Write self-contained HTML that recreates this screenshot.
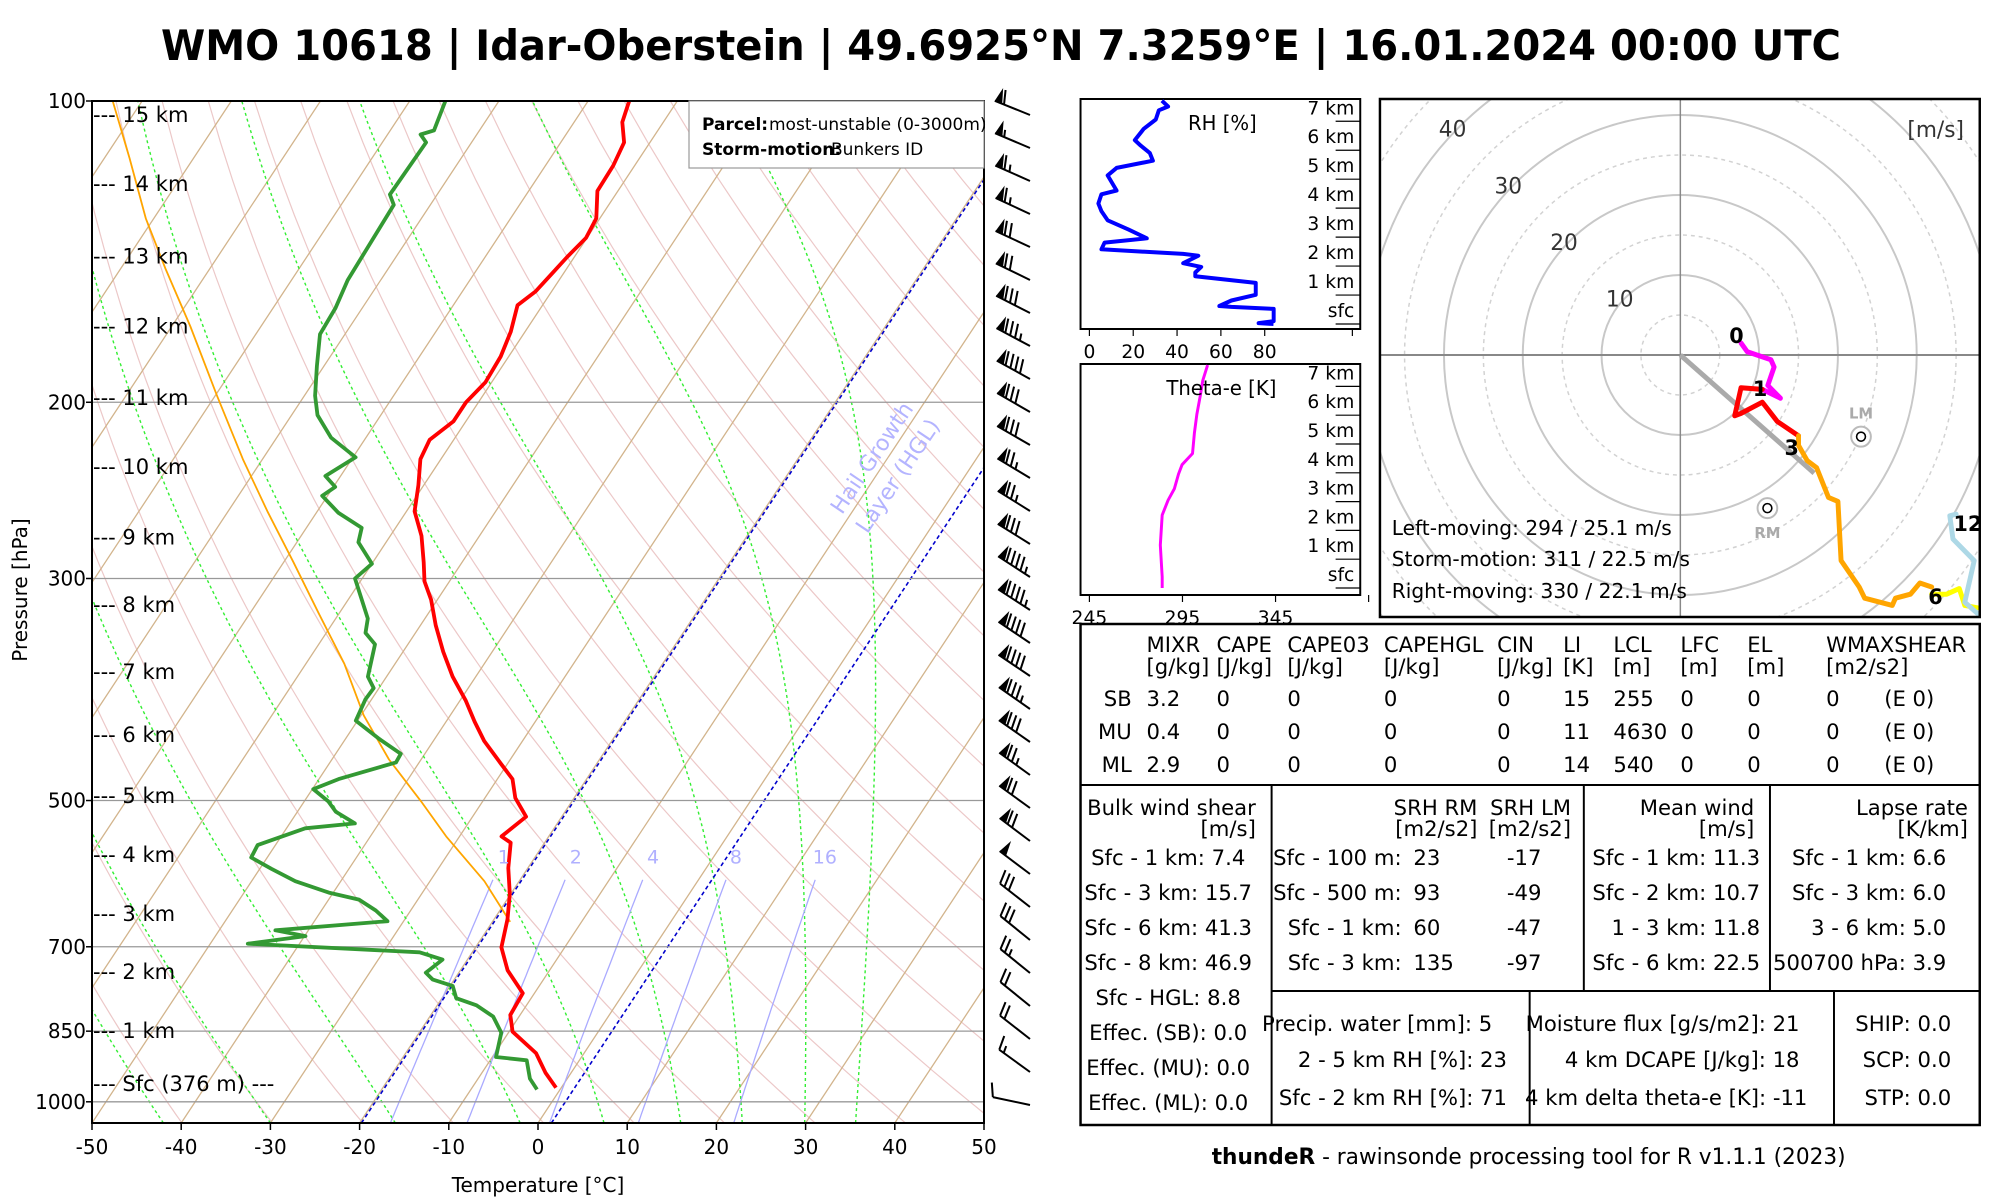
<!DOCTYPE html>
<html><head><meta charset="utf-8"><style>
html,body{margin:0;padding:0;background:#fff;}
svg{display:block;font-family:"DejaVu Sans","Liberation Sans",sans-serif;}
</style></head><body>
<svg id="root" xmlns="http://www.w3.org/2000/svg" width="2000" height="1200" viewBox="0 0 2000 1200">
<defs>
<clipPath id="skewclip"><rect x="92" y="101" width="892" height="1022"/></clipPath>
<clipPath id="hodoclip"><rect x="1385" y="99" width="609" height="518"/></clipPath>
<clipPath id="rhclip"><rect x="1081" y="99" width="284" height="230"/></clipPath>
<clipPath id="thclip"><rect x="1081" y="364" width="284" height="231"/></clipPath>
</defs>
<rect x="0" y="0" width="2000" height="1200" fill="#fff"/>
<text x="1001" y="60" text-anchor="middle" font-size="42" font-weight="bold" textLength="1680" lengthAdjust="spacingAndGlyphs">WMO 10618 | Idar-Oberstein | 49.6925°N 7.3259°E | 16.01.2024 00:00 UTC</text>

<g id="skew">
<g id="skewbg" clip-path="url(#skewclip)"></g>
<g id="skewdata" clip-path="url(#skewclip)"></g>
<g id="skewaxes"></g>
</g>
<g id="barbs"></g>

<g transform="matrix(0.9849 0 0 1 15.86 0)">
<g id="rhpanel"></g>
<g id="thpanel"></g>
<g id="hodo"></g>

<g id="table" font-size="21.5">
<rect x="1081" y="624" width="913" height="501" fill="none" stroke="#000" stroke-width="2.5"/>
<line x1="1081" y1="785" x2="1994" y2="785" stroke="#000" stroke-width="2"/>
<line x1="1275" y1="991" x2="1994" y2="991" stroke="#000" stroke-width="2"/>
<line x1="1275" y1="785" x2="1275" y2="1125" stroke="#000" stroke-width="2"/>
<line x1="1592" y1="785" x2="1592" y2="991" stroke="#000" stroke-width="2"/>
<line x1="1781" y1="785" x2="1781" y2="991" stroke="#000" stroke-width="2"/>
<line x1="1537" y1="991" x2="1537" y2="1125" stroke="#000" stroke-width="2"/>
<line x1="1846" y1="991" x2="1846" y2="1125" stroke="#000" stroke-width="2"/>
<g id="tabtext"></g>
</g>
<text x="1536" y="1164" text-anchor="middle" font-size="22"><tspan font-weight="bold">thundeR</tspan> - rawinsonde processing tool for R v1.1.1 (2023)</text>
</g>
</svg>
<script>
// ===== Data =====
const TEMP_P = [968,935,894,851,819,779,739,701,657,620,584,551,543,519,497,476,459,436,417,397,376,355,334,315,302,289,272,257,242,228,218,209,200,191,180,170,160,155,149,143,137,131,123,116,110,105,100];
const TEMP_T = [-0.6,-2.9,-5.4,-9.6,-11.1,-11.3,-14.7,-17.1,-18.5,-20.1,-22.2,-23.8,-25.3,-24.0,-26.6,-28.3,-30.8,-34.3,-36.8,-39.4,-42.6,-45.5,-48.3,-50.7,-52.8,-54.3,-56.5,-59.1,-60.6,-62.3,-62.7,-61.4,-61.4,-60.7,-60.9,-61.6,-62.8,-61.8,-61.3,-60.8,-60.1,-60.4,-62.3,-62.4,-62.9,-64.6,-65.4];
const DEW_P = [972,948,909,902,853,822,801,788,766,755,743,721,709,695,683,674,660,644,628,618,602,585,570,554,533,527,513,501,487,476,458,449,434,416,396,386,376,349,340,329,300,290,276,267,258,248,243,237,227,217,206,197,184,171,161,151,127,124,110,108,107,100];
const DEW_T = [-2.6,-4.2,-5.9,-9.6,-10.8,-12.9,-15.6,-18.4,-19.7,-22.4,-23.7,-22.8,-25.9,-45.8,-39.9,-43.7,-31.8,-33.9,-36.6,-40.5,-45.1,-48.7,-51.8,-52.0,-47.9,-42.7,-45.7,-47.3,-49.9,-47.8,-42.6,-42.7,-46.2,-50.2,-50.7,-50.6,-52.1,-53.7,-55.6,-56.4,-60.8,-60.0,-63.1,-63.8,-67.5,-70.6,-69.8,-71.7,-69.7,-73.9,-77.1,-78.8,-80.8,-82.8,-83.0,-83.7,-84.1,-85.3,-85.1,-86.3,-85.1,-86];
const PARCEL_P = [661,602,543,501,455,411,365,325,289,257,228,197,168,147,131,114,100];
const PARCEL_T = [-18,-23.9,-31.5,-36.9,-43.6,-49.7,-55.7,-62.3,-68.9,-75.6,-82.2,-89.8,-97.9,-105,-110.9,-117.2,-123.3];
const P_TICKS = [100,200,300,500,700,850,1000];
const T_TICKS = [-50,-40,-30,-20,-10,0,10,20,30,40,50];
const KM_LABELS = ['15 km','14 km','13 km','12 km','11 km','10 km','9 km','8 km','7 km','6 km','5 km','4 km','3 km','2 km','1 km','Sfc (376 m) ---'];
const KM_P = [103.3,121,143,168,198,232,273,319,372,430,495,567,649,742,850,960];
const MIXR = [1,2,4,8,16];
const MOIST_START = [-42,-30,-16,-2,7.4,16,22.9,29.9,35.6];
const HGL_T = [-19.8,1.5];
const BARB_SPD = [60,55,65,65,70,70,80,85,90,80,80,75,75,80,95,95,90,90,85,80,75,70,70,50,30,30,25,20,20,15,10];
const BARB_DIR = [292,293,294,295,295,296,297,298,299,300,300,301,302,302,303,303,304,304,305,305,306,306,307,307,308,309,309,309,308,306,282];
const RH_H = [0,0.03,0.10,0.52,0.59,0.62,0.81,1.01,1.42,1.65,1.78,1.97,2.10,2.36,2.42,2.58,2.81,2.96,3.26,3.58,3.90,4.16,4.48,4.61,5.13,5.39,5.64,5.90,6.16,6.35,6.74,7.06,7.38,7.51,7.71];
const RH_V = [84,77.2,84.1,84.1,64.8,59.3,64.8,75.9,75.9,48.3,48.3,51.0,42.8,49.7,42.8,5.5,6.9,26.2,17.9,8.3,5.5,4.1,5.5,12.4,8.3,12.4,29.0,27.6,23.4,20.7,24.8,30.3,31.7,35.9,33.1];
const TH_H = [0,0.39,1.49,2.53,3.05,3.44,3.96,4.28,4.67,5.38,6.03,6.68,7.20,7.74];
const TH_V = [284.1,284.1,283.1,284.1,287.3,290.6,292.9,294.8,300.4,301.4,302.7,304.6,305.9,308.5];
const H0_U = [7.7,8.5,11.5,11.9,11.1,12.7,10.4];
const H0_V = [1.5,0.4,-0.6,-1.5,-3.8,-5.4,-4.3];
const H1_U = [10.4,7.7,6.9,7.7,10.4,10.8,12.3,15.0];
const H1_V = [-4.3,-4.1,-7.6,-7.3,-5.9,-6.4,-8.3,-10.1];
const H3_U = [15.0,15.0,16.1,17.3,18.8,20.0,20.4,22.7,23.4,26.9,27.3,29.2,30.4,31.9];
const H3_V = [-10.1,-11.3,-13.2,-14.1,-17.8,-18.3,-25.7,-29.0,-30.4,-31.3,-30.4,-29.9,-28.5,-29.0];
const H6_U = [31.9,33.8,35.4,36.1,37.7];
const H6_V = [-29.9,-29.9,-29.2,-31.3,-31.6];
const H9_U = [37.7,36.1,37.3,34.6,34.2,35.0];
const H9_V = [-32.3,-30.9,-25.7,-23.0,-20.1,-19.9];
const STORM = [311,22.5];
const LM = [294,25.1];
const RM = [330,22.1];

// ===== Helpers =====
const NS='http://www.w3.org/2000/svg';
function mk(tag, attrs, parent){const e=document.createElementNS(NS,tag);for(const k in attrs)e.setAttribute(k,attrs[k]);parent.appendChild(e);return e;}
function $(id){return document.getElementById(id);}

const X0=92,X1=984,YT=101,YB=1123,KY=(YB-YT)/Math.log10(10.5),PXT=8.92,SK=0.66;
function yP(p){return YT+(Math.log10(p)-2)*KY;}
function xTP(T,p){return X0+(T+50)*PXT+SK*(YB-yP(p));}
function pathTP(Ts,Ps){let d='';for(let i=0;i<Ts.length;i++){d+=(i?'L':'M')+xTP(Ts[i],Ps[i]).toFixed(1)+','+yP(Ps[i]).toFixed(1);}return d;}

const bg=$('skewbg'), sd=$('skewdata'), ax=$('skewaxes');
for(let th=230;th<=560;th+=10){
  const Ts=[],Ps=[];for(let p=1050;p>=100;p-=10){Ts.push(th*Math.pow(p/1000,0.2857)-273.15);Ps.push(p);}
  const e=mk('path',{d:pathTP(Ts,Ps),fill:'none',stroke:'#ecc8c8','stroke-width':1.2},bg);
  
  
}
for(let T=-160;T<=50;T+=10){
  const e=mk('path',{d:pathTP([T,T],[1050,100]),fill:'none',stroke:'#d2b48c','stroke-width':1.3},bg);
  
  
}
MOIST_START.forEach(T0=>{
  let T=T0+273.15,p=1050;const Ts=[],Ps=[];
  while(p>=100){Ts.push(T-273.15);Ps.push(p);
    const tc=T-273.15;const es=6.112*Math.exp(17.67*tc/(tc+243.5));const rs=0.622*es/(p-es);
    const num=287.04*T+2.501e6*rs;const den=1005.7+2.501e6*2.501e6*rs*0.622/(287.04*T*T);
    T-=num/den/p*5;p-=5;}
  const e=mk('path',{d:pathTP(Ts,Ps),fill:'none',stroke:'#33ee33','stroke-width':1.4,'stroke-dasharray':'3,3'},bg);
  
  
});
MIXR.forEach(w=>{
  const Ts=[],Ps=[];for(let p=1050;p>=600;p-=10){const e=w*p/(622+w);const l=Math.log(e/6.112);Ts.push(243.5*l/(17.67-l));Ps.push(p);}
  const e=mk('path',{d:pathTP(Ts,Ps),fill:'none',stroke:'#aaaaff','stroke-width':1.3},bg);
  
  
  const p=578,ev=w*p/(622+w),l=Math.log(ev/6.112),Tl=243.5*l/(17.67-l);
  const t=mk('text',{x:xTP(Tl,p)+4,y:yP(p),'text-anchor':'middle','font-size':19,fill:'#b0b0ff'},ax);
  t.textContent=w;
  
  
});
HGL_T.forEach(T=>{
  const e=mk('path',{d:pathTP([T,T],[1050,100]),fill:'none',stroke:'#0000cc','stroke-width':1.6,'stroke-dasharray':'4,3'},bg);
  
  
});
P_TICKS.forEach(p=>{
  const e=mk('line',{x1:X0,x2:X1,y1:yP(p),y2:yP(p),stroke:'#999','stroke-width':1.3},bg);
  
  
});
[[PARCEL_T,PARCEL_P,'#ffa500',1.8,'parcel-path'],[DEW_T,DEW_P,'#339933',3.8,'dewpoint-profile'],[TEMP_T,TEMP_P,'#ff0000',3.8,'temperature-profile']].forEach(a=>{
  const e=mk('path',{d:pathTP(a[0],a[1]),fill:'none',stroke:a[2],'stroke-width':a[3],'stroke-linejoin':'round'},sd);
  
  
});
[['Hail Growth',878,462],['Layer (HGL)',904,480]].forEach(a=>{
  const t=mk('text',{x:a[1],y:a[2],'text-anchor':'middle','font-size':22,fill:'#b4b4ff',transform:`rotate(-56 ${a[1]} ${a[2]})`},sd);
  t.textContent=a[0];
  
  
});
{const e=mk('rect',{x:X0,y:YT,width:X1-X0,height:YB-YT,fill:'none',stroke:'#000','stroke-width':2},ax);

}
P_TICKS.forEach(p=>{
  const k=mk('line',{x1:X0-6,x2:X0,y1:yP(p),y2:yP(p),stroke:'#000','stroke-width':1.5},ax);
  
  
  const t=mk('text',{x:X0-6,y:yP(p)+7,'text-anchor':'end','font-size':20},ax);
  t.textContent=p;
  
  
});
T_TICKS.forEach(T=>{
  const x=X0+(T+50)*PXT;
  const k=mk('line',{x1:x,x2:x,y1:YB,y2:YB+7,stroke:'#000','stroke-width':1.5},ax);
  
  
  const t=mk('text',{x:x,y:YB+31,'text-anchor':'middle','font-size':20},ax);
  t.textContent=T;
  
  
});
{const t=mk('text',{x:538,y:1192,'text-anchor':'middle','font-size':20},ax);t.textContent='Temperature [°C]';


const t2=mk('text',{x:27,y:590,'text-anchor':'middle','font-size':20,transform:'rotate(-90 27 590)'},ax);t2.textContent='Pressure [hPa]';

}
KM_LABELS.forEach((s,i)=>{
  const t=mk('text',{x:93,y:yP(KM_P[i])+7,'font-size':21},ax);
  t.textContent='--- '+s;
  
  
});
{const r=mk('rect',{x:689,y:101,width:295,height:67,fill:'#fff',stroke:'#999','stroke-width':1.2},ax);


const a=mk('text',{x:702,y:130,'font-size':17,'font-weight':'bold'},ax);a.textContent='Parcel:';


const b=mk('text',{x:769,y:130,'font-size':17},ax);b.textContent='most-unstable (0-3000m)';


const c=mk('text',{x:702,y:155,'font-size':17,'font-weight':'bold'},ax);c.textContent='Storm-motion:';


const d=mk('text',{x:831,y:155,'font-size':17},ax);d.textContent='Bunkers ID';

}

// ===== Wind barbs =====
const bb=$('barbs');
BARB_SPD.forEach((spd,i)=>{
  const x=1030,y=115+i*33,r=BARB_DIR[i]*Math.PI/180,dx=Math.sin(r),dy=-Math.cos(r),fx=-dy,fy=dx,L=38;
  const g=mk('g',{},bb);
  
  
  let ex=x+dx*L,ey=y+dy*L;
  mk('line',{x1:x,y1:y,x2:ex,y2:ey,stroke:'#000','stroke-width':2},g);
  let s=Math.round(spd/5)*5,pos=0;
  const pen=Math.floor(s/50);s-=pen*50;const full=Math.floor(s/10);s-=full*10;const half=s>=5;
  for(let k=0;k<pen;k++){const px=ex-dx*pos,py=ey-dy*pos;
    mk('polygon',{points:`${px},${py} ${px+fx*15-dx*3},${py+fy*15-dy*3} ${px-dx*8},${py-dy*8}`,fill:'#000'},g);pos+=9;}
  if(pen>0)pos+=1;
  for(let k=0;k<full;k++){const px=ex-dx*pos,py=ey-dy*pos;
    mk('line',{x1:px,y1:py,x2:px+fx*14+dx*4,y2:py+fy*14+dy*4,stroke:'#000','stroke-width':2},g);pos+=5.5;}
  if(half){if(pen+full===0)pos=6;const px=ex-dx*pos,py=ey-dy*pos;
    mk('line',{x1:px,y1:py,x2:px+fx*7+dx*2,y2:py+fy*7+dy*2,stroke:'#000','stroke-width':2},g);}
});

// ===== Profile panels =====
function profilePanel(gid,clip,top,bot,sfcY,kmPx,x0,xScale,xOff,H,V,color,w,title,titleX,ticks,tickLbl,name){
  const g=$(gid);
  const r=mk('rect',{x:1081,y:top,width:284,height:bot-top,fill:'none',stroke:'#000','stroke-width':2},g);
  
  
  let d='';H.forEach((h,i)=>{d+=(i?'L':'M')+(x0+(V[i]-xOff)*xScale).toFixed(1)+','+(sfcY-h*kmPx).toFixed(1);});
  const pth=mk('path',{d:d,fill:'none',stroke:color,'stroke-width':w,'stroke-linejoin':'round','clip-path':`url(#${clip})`},g);
  
  
  const tt=mk('text',{x:titleX,y:top+31,'text-anchor':'middle','font-size':20},g);tt.textContent=title;
  
  
  for(let k=0;k<=7;k++){
    const yy=sfcY-k*kmPx;
    const ln=mk('line',{x1:1340,x2:1365,y1:yy,y2:yy,stroke:'#000','stroke-width':1.2},g);
    
    
    const t=mk('text',{x:1359,y:yy-7,'text-anchor':'end','font-size':19},g);t.textContent=k?k+' km':'sfc';
    
    
  }
  ticks.forEach((v,i)=>{const xx=x0+(v-xOff)*xScale;
    const k=mk('line',{x1:xx,x2:xx,y1:bot,y2:bot+7,stroke:'#000','stroke-width':1.2},g);
    
    
    if(tickLbl[i]!==''){const t=mk('text',{x:xx,y:bot+29,'text-anchor':'middle','font-size':19},g);t.textContent=tickLbl[i];
    
    }
  });
}
profilePanel('rhpanel','rhclip',99,329,324,28.96,1090,2.225,0,RH_H,RH_V,'#0000ff',4,'RH [%]',1225,[0,20,40,60,80,120],['0','20','40','60','80',''],'rh');
profilePanel('thpanel','thclip',364,595,588,28.8,1090,1.89,245,TH_H,TH_V,'#ff00ff',3,'Theta-e [K]',1224,[245,295,345,395],['245','295','345',''],'theta-e');

// ===== Hodograph =====
const hg=$('hodo'),HX=1690,HY=355,HS=8;
{const r=mk('rect',{x:1385,y:99,width:609,height:518,fill:'#fff',stroke:'none'},hg);

}
const hc=mk('g',{'clip-path':'url(#hodoclip)'},hg);


for(let r=5;r<=70;r+=5){
  const solid=r%10===0;
  const c=mk('circle',{cx:HX,cy:HY,r:r*HS,fill:'none',stroke:solid?'#c8c8c8':'#d2d2d2','stroke-width':solid?2:1.5,'stroke-dasharray':solid?'none':'4,4'},hc);
  
  
}
{const a=mk('line',{x1:1385,x2:1994,y1:HY,y2:HY,stroke:'#888','stroke-width':2},hc);


const b=mk('line',{x1:HX,x2:HX,y1:99,y2:617,stroke:'#888','stroke-width':1.5},hc);

}
[10,20,30,40].forEach(r=>{
  const t=mk('text',{x:HX-r*HS*0.707-5,y:HY-r*HS*0.707+8,'text-anchor':'middle','font-size':22,fill:'#333'},hc);t.textContent=r;
  
  
});
{const rad=STORM[0]*Math.PI/180,u=-STORM[1]*Math.sin(rad),v=-STORM[1]*Math.cos(rad);
const ex=HX+u*HS,ey=HY-v*HS;
const l=mk('line',{x1:HX,y1:HY,x2:ex,y2:ey,stroke:'#aaa','stroke-width':5},hc);

}
function hodoSeg(U,V,col,name){let d='';U.forEach((u,i)=>{d+=(i?'L':'M')+(HX+u*HS).toFixed(1)+','+(HY-V[i]*HS).toFixed(1);});
  const e=mk('path',{d:d,fill:'none',stroke:col,'stroke-width':5,'stroke-linejoin':'round','stroke-linecap':'round'},hc);
  
  }
hodoSeg(H0_U,H0_V,'#ff00ff','hodo-0-1km');
hodoSeg(H1_U,H1_V,'#ff0000','hodo-1-3km');
hodoSeg(H3_U,H3_V,'#ffa500','hodo-3-6km');
hodoSeg(H6_U,H6_V,'#ffff00','hodo-6-9km');
hodoSeg(H9_U,H9_V,'#add8e6','hodo-9-12km');
[['0',1747,343],['1',1771,396],['3',1803,455],['6',1949,604],['12',1982,531]].forEach(a=>{
  const t=mk('text',{x:a[1],y:a[2],'text-anchor':'middle','font-size':21,'font-weight':'bold'},hc);t.textContent=a[0];
  
  
});
[[LM,'LM',-1],[RM,'RM',1]].forEach(a=>{
  const rad=a[0][0]*Math.PI/180,u=-a[0][1]*Math.sin(rad),v=-a[0][1]*Math.cos(rad);
  const cx=HX+u*HS,cy=HY-v*HS;
  const c1=mk('circle',{cx:cx,cy:cy,r:10,fill:'#fff',stroke:'#bbb','stroke-width':2},hc);
  
  
  const c2=mk('circle',{cx:cx,cy:cy,r:4.5,fill:'none',stroke:'#000','stroke-width':1.6},hc);
  
  
  const t=mk('text',{x:cx,y:a[2]<0?cy-18:cy+30,'text-anchor':'middle','font-size':15,'font-weight':'bold',fill:'#aaa'},hc);t.textContent=a[1];
  
  
});
{const t=mk('text',{x:1978,y:137,'text-anchor':'end','font-size':22,fill:'#333'},hc);t.textContent='[m/s]';

}
[['Left-moving: 294 / 25.1 m/s',535],['Storm-motion: 311 / 22.5 m/s',566],['Right-moving: 330 / 22.1 m/s',598]].forEach(a=>{
  const t=mk('text',{x:1397,y:a[1],'font-size':20.5},hc);t.textContent=a[0];
  
  
});
{const r=mk('rect',{x:1385,y:99,width:609,height:518,fill:'none',stroke:'#000','stroke-width':2.5},hg);

}

// ===== Table text =====
const tt=$('tabtext');
function T(x,y,s,anchor,name){const t=mk('text',{x:x,y:y,'text-anchor':anchor||'start'},tt);t.textContent=s;
  
  }
const cols=[1148,1219,1291,1389,1504,1571,1622,1690,1758,1838];
const hdr=['MIXR','CAPE','CAPE03','CAPEHGL','CIN','LI','LCL','LFC','EL','WMAXSHEAR'];
const units=['[g/kg]','[J/kg]','[J/kg]','[J/kg]','[J/kg]','[K]','[m]','[m]','[m]','[m2/s2]'];
hdr.forEach((h,i)=>{T(cols[i],652,h,'start','table-header');T(cols[i],674,units[i],'start','table-unit');});
const rows=[['SB','3.2','0','0','0','0','15','255','0','0','0'],['MU','0.4','0','0','0','0','11','4630','0','0','0'],['ML','2.9','0','0','0','0','14','540','0','0','0']];
rows.forEach((r,j)=>{const y=706+j*33;T(1133,y,r[0],'end','row-label');for(let i=1;i<r.length;i++)T(cols[i-1],y,r[i],'start','table-value');T(1897,y,'(E 0)','start','table-value');});
T(1259,815,'Bulk wind shear','end','section-title');T(1259,836,'[m/s]','end','section-unit');
['Sfc - 1 km: 7.4','Sfc - 3 km: 15.7','Sfc - 6 km: 41.3','Sfc - 8 km: 46.9','Sfc - HGL: 8.8','Effec. (SB): 0.0','Effec. (MU): 0.0','Effec. (ML): 0.0'].forEach((s,i)=>T(1170,865+i*35,s,'middle','bulk-shear-row'));
T(1484,815,'SRH RM','end','section-title');T(1579,815,'SRH LM','end','section-title');
T(1484,836,'[m2/s2]','end','section-unit');T(1579,836,'[m2/s2]','end','section-unit');
[['Sfc - 100 m:','23','-17'],['Sfc - 500 m:','93','-49'],['Sfc - 1 km:','60','-47'],['Sfc - 3 km:','135','-97']].forEach((r,i)=>{const y=865+i*35;T(1407,y,r[0],'end','srh-label');T(1419,y,r[1],'start','srh-rm');T(1549,y,r[2],'end','srh-lm');});
T(1765,815,'Mean wind','end','section-title');T(1765,836,'[m/s]','end','section-unit');
['Sfc - 1 km: 11.3','Sfc - 2 km: 10.7','1 - 3 km: 11.8','Sfc - 6 km: 22.5'].forEach((s,i)=>T(1771,865+i*35,s,'end','mean-wind-row'));
T(1982,815,'Lapse rate','end','section-title');T(1982,836,'[K/km]','end','section-unit');
['Sfc - 1 km: 6.6','Sfc - 3 km: 6.0','3 - 6 km: 5.0','500700 hPa: 3.9'].forEach((s,i)=>T(1960,865+i*35,s,'end','lapse-rate-row'));
T(1499,1031,'Precip. water [mm]: 5','end','moisture-row');T(1514,1067,'2 - 5 km RH [%]: 23','end','moisture-row');T(1514,1105,'Sfc - 2 km RH [%]: 71','end','moisture-row');
T(1811,1031,'Moisture flux [g/s/m2]: 21','end','flux-row');T(1811,1067,'4 km DCAPE [J/kg]: 18','end','flux-row');T(1819,1105,'4 km delta theta-e [K]: -11','end','flux-row');
T(1965,1031,'SHIP: 0.0','end','composite-row');T(1965,1067,'SCP: 0.0','end','composite-row');T(1965,1105,'STP: 0.0','end','composite-row');
</script>
</body></html>
